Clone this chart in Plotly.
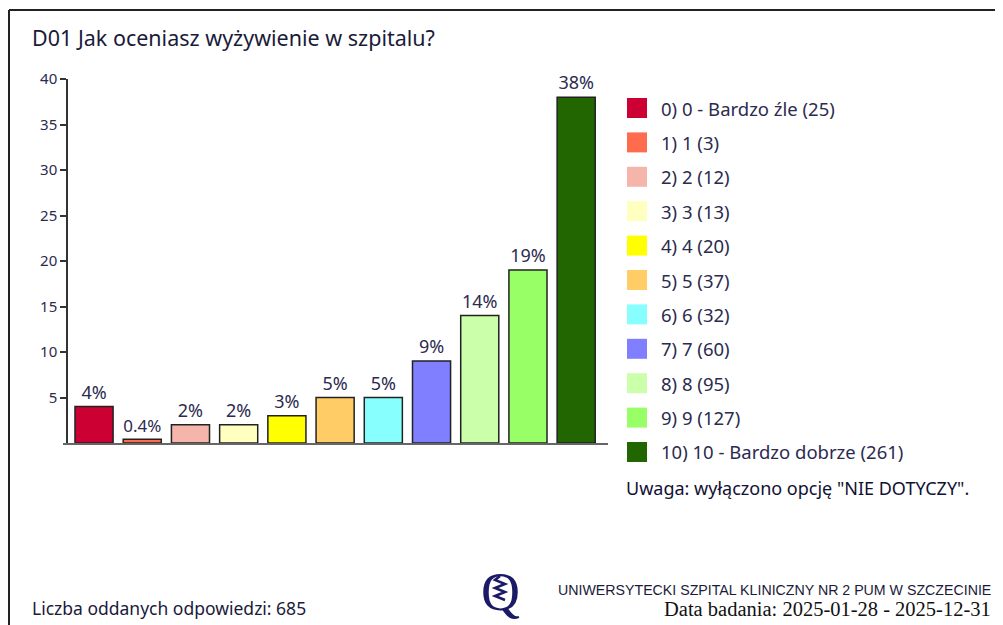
import plotly.graph_objects as go

# data
categories = ["0) 0 - Bardzo źle", "1) 1", "2) 2", "3) 3", "4) 4", "5) 5",
              "6) 6", "7) 7", "8) 8", "9) 9", "10) 10 - Bardzo dobrze"]
counts = [25, 3, 12, 13, 20, 37, 32, 60, 95, 127, 261]
percents = [4, 0.4, 2, 2, 3, 5, 5, 9, 14, 19, 38]
pct_labels = ["4%", "0.4%", "2%", "2%", "3%", "5%", "5%", "9%", "14%", "19%", "38%"]
colors = ["#CC0033", "#FF6B4D", "#F5B5AA", "#FFFFC0", "#FFFF00", "#FFCC66",
          "#88FFFF", "#7F7FFF", "#CCFFAA", "#99FF66", "#216600"]
y_ticks = [5, 10, 15, 20, 25, 30, 35, 40]
total = 685

# page size and page offset of the plotly div (body margin)
W, H, OFF = 1003, 625, 8
# plot area in page pixels
L, R, T, B = 68, 608, 79, 443
FONT = "Noto Sans"
TXT = "#2b2b4f"


def px(x):
    return (x - L) / (R - L)


def py(y):
    return (B - y) / (B - T)


x_idx = list(range(len(categories)))

fig = go.Figure()
fig.add_trace(go.Bar(
    x=x_idx,
    y=percents,
    width=0.79,
    marker=dict(color=colors, line=dict(color="#222222", width=1.5)),
    text=pct_labels,
    textposition="outside",
    textfont=dict(family=FONT, size=18, color=TXT),
    cliponaxis=False,
    showlegend=False,
    hoverinfo="skip",
))

shapes = []
annotations = []

# frame (left edge kept just inside the figure)
shapes.append(dict(type="line", xref="paper", yref="paper", x0=px(9), x1=px(1010),
                   y0=py(10), y1=py(10), line=dict(color="#222222", width=2)))
shapes.append(dict(type="line", xref="paper", yref="paper", x0=px(9), x1=px(9),
                   y0=py(10), y1=py(630), line=dict(color="#222222", width=2)))
# baseline extending left of y axis
shapes.append(dict(type="line", xref="paper", yref="paper", x0=px(63), x1=px(608),
                   y0=py(444), y1=py(444), line=dict(color="#333333", width=1.5)))

# legend built from the data
for i, (cat, cnt, col) in enumerate(zip(categories, counts, colors)):
    yc = 108 + i * 34.4
    shapes.append(dict(type="rect", xref="paper", yref="paper",
                       x0=px(627), x1=px(647), y0=py(yc - 10), y1=py(yc + 10),
                       fillcolor=col, line=dict(width=0)))
    annotations.append(dict(xref="paper", yref="paper", x=px(659), y=py(yc),
                            text=f"{cat} ({cnt})", showarrow=False,
                            xanchor="left", yanchor="middle",
                            font=dict(family=FONT, size=18.5, color=TXT)))

annotations.append(dict(xref="paper", yref="paper", x=px(624), y=py(488),
                        text='Uwaga: wyłączono opcję "NIE DOTYCZY".', showarrow=False,
                        xanchor="left", yanchor="middle",
                        font=dict(family=FONT, size=18, color="#111133")))

# title
annotations.append(dict(xref="paper", yref="paper", x=px(30), y=py(38),
                        text="D01 Jak oceniasz wyżywienie w szpitalu?", showarrow=False,
                        xanchor="left", yanchor="middle",
                        font=dict(family=FONT, size=21.5, color="#1a1a3a")))

# footer
annotations.append(dict(xref="paper", yref="paper", x=px(30), y=py(608),
                        text=f"Liczba oddanych odpowiedzi: {total}", showarrow=False,
                        xanchor="left", yanchor="middle",
                        font=dict(family=FONT, size=17.5, color="#1a1a3a")))
annotations.append(dict(xref="paper", yref="paper", x=px(993), y=py(590),
                        text="UNIWERSYTECKI SZPITAL KLINICZNY NR 2 PUM W SZCZECINIE",
                        showarrow=False, xanchor="right", yanchor="middle",
                        font=dict(family="Liberation Sans Narrow, Liberation Sans", size=14.2,
                                  color="#1a1a3a")))
annotations.append(dict(xref="paper", yref="paper", x=px(993), y=py(609),
                        text="Data badania: 2025-01-28 - 2025-12-31",
                        showarrow=False, xanchor="right", yanchor="middle",
                        font=dict(family="Liberation Serif", size=20.5, color="#111111")))

# logo: a Q with a coiled rod inside
annotations.append(dict(xref="paper", yref="paper", x=px(500), y=py(592),
                        text="Q", showarrow=False, xanchor="center", yanchor="middle",
                        font=dict(family="Liberation Serif", size=54, color="#1a1a66")))
zig = "M {} {} ".format(px(500), py(576))
for k in range(6):
    xx = 495 if k % 2 == 0 else 505
    zig += "L {} {} ".format(px(xx), py(580 + k * 4))
shapes.append(dict(type="path", xref="paper", yref="paper", path=zig,
                   line=dict(color="#1a1a66", width=2.5)))

fig.update_layout(
    width=W - OFF, height=H - OFF,
    margin=dict(l=L - OFF, r=W - R, t=T - OFF, b=H - B),
    paper_bgcolor="white", plot_bgcolor="white",
    shapes=shapes,
    annotations=annotations,
    xaxis=dict(range=[-0.54, 10.66], showticklabels=False, ticks="", showgrid=False,
               zeroline=False, showline=False, fixedrange=True),
    yaxis=dict(range=[0, 40], tickvals=y_ticks, ticks="outside", ticklen=6,
               tickcolor="#333333", tickwidth=1.5, showline=True, linecolor="#333333",
               linewidth=1.5, showgrid=False, zeroline=False,
               tickfont=dict(family=FONT, size=15, color=TXT), fixedrange=True),
)

fig.write_html("out.html")
